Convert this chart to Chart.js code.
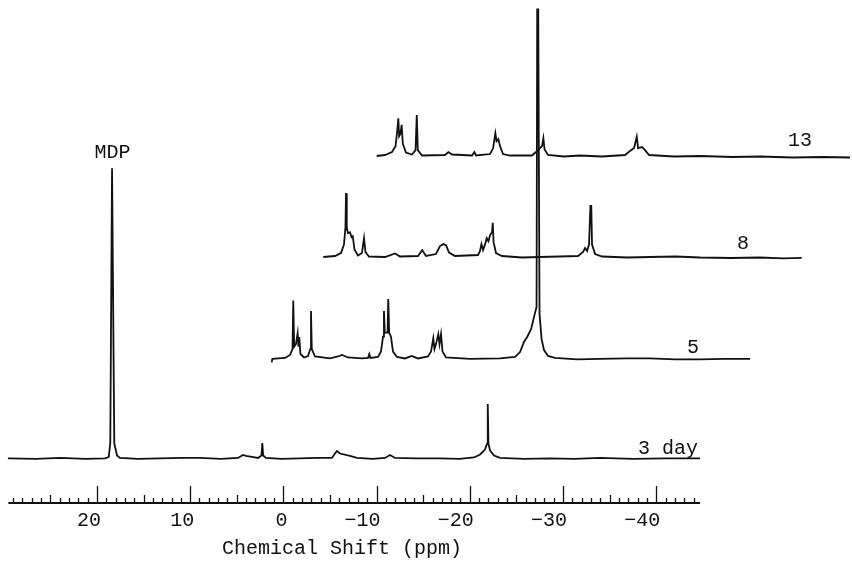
<!DOCTYPE html>
<html>
<head>
<meta charset="utf-8">
<script src="https://cdn.jsdelivr.net/npm/chart.js@4.4.0/dist/chart.umd.min.js"></script>
<style>
  html, body { margin: 0; padding: 0; background: #fff; }
  #wrap { width: 852px; height: 566px; }
</style>
</head>
<body>
<div id="wrap"><canvas id="espectro" width="852" height="566"></canvas></div>
<script>
// Traço "3 day": deslocamento químico (ppm) e intensidade acima da linha de base
const ppm3 = [29.55, 26.5, 23.97, 21.2, 19.14, 18.73, 18.57, 18.38, 18.28, 18.14, 17.85, 17.53, 15.6, 13.24, 10.8, 8.95,
  6.7, 4.87, 4.33, 4.01, 3.37, 2.73, 2.35, 2.26, 2.17, 1.87, 0.2, -1.78, -3.6, -5.21, -5.53, -5.75, -6.07, -7.14,
  -7.90, -9.6, -10.9, -11.44, -11.98, -14.2, -16.8, -18.9, -20.45, -21.1, -21.63, -21.85, -21.90, -21.95, -22.0, -22.17, -22.6,
  -23.24, -25.8, -28.6, -31.2, -33.97, -37.5, -41.0, -44.7];
const int3 = [0, -0.1, 0.1, -0.1, 0, 0.3, 3.1, 58.6, 58.6, 3.1, 0.6, 0.1, -0.1, 0, 0.1, 0.1,
  -0.1, 0.1, 0.7, 0.5, 0.3, 0.1, 0.6, 3.1, 0.6, 0.1, -0.1, 0, 0.1, 0.1, 1.0, 1.5, 1.0, 0.5,
  0.1, -0.1, 0.1, 0.7, 0.1, 0, 0, -0.1, 0.2, 0.8, 1.8, 3.0, 11.0, 11.0, 3.0, 1.6, 0.6,
  0.1, -0.1, 0, -0.1, 0.1, -0.1, 0, 0];

// Traço "5"
const ppm5 = [1.26, 1.18, -0.18, -0.71, -0.98, -1.06, -1.16, -1.35, -1.53, -1.62, -1.71, -1.83,
  -2.21, -2.64, -2.89, -2.96, -3.05, -3.39, -5.0, -5.86, -6.29, -6.93, -8.43, -9.08, -9.22, -9.34,
  -10.15, -10.47, -10.69, -10.79, -10.88, -11.01, -11.18, -11.25, -11.35, -11.54, -11.76, -12.19,
  -13.05, -13.77, -14.44, -15.52, -15.84, -16.08, -16.21, -16.37, -16.62, -16.75, -16.91, -17.07,
  -17.45, -20.02, -23.24, -24.85, -25.39, -25.82, -26.14, -26.57, -26.89, -27.16, -27.23, -27.34,
  -27.48, -27.7, -27.96, -28.39, -29.14, -31.5, -33.97, -36.8, -39.33, -42.0, -44.7, -47.3, -50.07];
const int5 = [-0.7, 0, 0.2, 0.8, 2.0, 11.8, 2.5, 3.0, 5.2, 2.5, 4.4, 1.0,
  0.3, 0.6, 2.0, 9.7, 2.0, 0.5, 0.1, 0.5, 0.8, 0.3, 0.1, 0.2, 1.0, 0.2,
  0.4, 1.5, 4.5, 9.7, 5.3, 5.3, 5.3, 12.1, 5.3, 4.5, 1.5, 0.4,
  0.1, 0.6, 0.1, 0.5, 1.5, 4.2, 2.0, 3.0, 5.0, 3.0, 5.0, 1.5,
  0.3, 0, 0.1, 0.4, 1.4, 3.5, 4.4, 6.0, 8.5, 10.5, 70.6, 70.6,
  9.0, 4.0, 1.8, 0.6, 0.2, -0.1, 0, 0.1, 0.1, -0.1, -0.1, 0, 0];

// Traço "8"
const ppm8 = [-4.28, -5.54, -6.18, -6.5, -6.66, -6.72, -6.8, -6.93, -7.15, -7.31, -7.44, -7.63,
  -8.0, -8.43, -8.65, -8.81, -9.18, -10.9, -11.98, -12.51, -14.44, -14.9, -15.3, -16.37, -16.8,
  -17.16, -17.45, -17.77, -18.41, -20.88, -21.09, -21.25, -21.42, -21.63, -21.81, -22.0, -22.17,
  -22.38, -22.46, -22.55, -22.81, -23.45, -25.6, -27.53, -29.6, -31.61, -32.15, -32.36, -32.58, -32.79, -32.94,
  -33.03, -33.11, -33.44, -34.19, -36.9, -39.33, -42.1, -44.7, -48.0, -51.14, -53.6, -55.61];
const int8 = [0, 0.2, 0.8, 2.5, 6.0, 12.9, 6.0, 4.8, 5.0, 4.0, 4.2, 1.5,
  0.3, 0.8, 3.8, 1.0, 0.1, 0, 0.7, 0.1, 0.2, 1.4, 0.2, 0.6, 2.2,
  2.6, 2.4, 0.9, 0.2, 0.4, 1.2, 2.6, 1.4, 2.5, 3.8, 3.2, 4.4,
  5.0, 6.9, 3.0, 0.8, 0.2, -0.1, 0, 0.1, 0.2, 1.0, 1.8, 1.2, 2.5, 10.3,
  10.3, 2.5, 0.6, 0.1, -0.1, 0, 0.1, -0.1, -0.2, -0.1, -0.3, -0.2];

// Traço "13"
const ppm13 = [-10.01, -10.9, -11.65, -12.03, -12.21, -12.33, -12.42, -12.56, -12.69, -12.81,
  -13.15, -13.8, -14.18, -14.31, -14.42, -14.87, -17.34, -17.7, -18.1, -20.24, -20.49, -20.67,
  -22.17, -22.49, -22.74, -22.87, -23.06, -23.24, -23.56, -24.31, -26.67, -27.1, -27.53, -27.75,
  -27.89, -28.02, -28.39, -30.1, -31.82, -34.2, -36.65, -37.19, -37.62, -37.91, -38.05, -38.48, -38.8, -39.23,
  -41.9, -44.7, -48.2, -51.14, -54.6, -57.9, -60.79];
const int13 = [0, 0.2, 0.8, 2.0, 5.0, 7.6, 4.0, 4.5, 6.3, 2.5,
  0.7, 0.3, 1.2, 8.3, 1.2, 0.1, 0.2, 0.8, 0.3, 0.1, 0.8, 0.1,
  0.4, 1.5, 4.6, 3.0, 3.4, 2.0, 0.4, 0.1, 0.1, 0.8, 1.6, 2.0,
  3.6, 1.3, 0.2, -0.1, 0.1, -0.1, 0.2, 1.0, 1.6, 3.9, 1.6, 1.8, 1.2, 0.2,
  -0.1, 0, -0.2, -0.1, -0.3, -0.2, -0.3];

// Empilhamento vertical e rótulos de cada traço
const baselines = [9.0, 29.1, 49.7, 70.1];
const traceLabels = ["3 day", "5", "8", "13"];
const labelPpm = [-38.05, -43.3, -48.66, -54.13];
const labelLift = [0.9, 1.2, 1.6, 2.0];

// Régua do eixo
const tickLabels = [20, 10, 0, -10, -20, -30, -40];
const rulerFrom = 29.5;
const rulerTo = -44.7;

function montarTraco(ppm, intens, base) {
  return ppm.map((p, i) => ({ x: p, y: intens[i] + base }));
}

const tracos = [
  montarTraco(ppm3, int3, baselines[0]),
  montarTraco(ppm5, int5, baselines[1]),
  montarTraco(ppm8, int8, baselines[2]),
  montarTraco(ppm13, int13, baselines[3])
];

const fonte = '20px "Liberation Mono", "DejaVu Sans Mono", monospace';

// Desenha a régua, os números, o título e os rótulos dos traços
const regua = {
  id: "regua",
  afterDatasetsDraw(chart) {
    const ctx = chart.ctx;
    const sx = chart.scales.x;
    const sy = chart.scales.y;
    const y0 = chart.chartArea.bottom;
    ctx.save();
    ctx.strokeStyle = "#111";
    ctx.fillStyle = "#111";

    ctx.lineWidth = 1.8;
    ctx.beginPath();
    ctx.moveTo(sx.getPixelForValue(rulerFrom), y0);
    ctx.lineTo(sx.getPixelForValue(rulerTo), y0);
    ctx.stroke();

    ctx.lineWidth = 1.3;
    for (let v = 29; v >= -44; v--) {
      const px = Math.round(sx.getPixelForValue(v)) + 0.5;
      const h = v % 10 === 0 ? 17 : (v % 5 === 0 ? 8 : 5);
      ctx.beginPath();
      ctx.moveTo(px, y0);
      ctx.lineTo(px, y0 - h);
      ctx.stroke();
    }

    ctx.font = fonte;
    ctx.textAlign = "right";
    ctx.textBaseline = "middle";
    tickLabels.forEach(v => {
      ctx.fillText(String(v).replace("-", "\u2212"), sx.getPixelForValue(v) + 4, y0 + 18);
    });

    ctx.textAlign = "center";
    ctx.fillText("Chemical Shift (ppm)", 342, y0 + 46);

    ctx.textAlign = "left";
    ctx.textBaseline = "alphabetic";
    traceLabels.forEach((t, i) => {
      ctx.fillText(t, sx.getPixelForValue(labelPpm[i]), sy.getPixelForValue(baselines[i] + labelLift[i]));
    });

    // rótulo do pico MDP
    ctx.textAlign = "center";
    ctx.fillText("MDP", sx.getPixelForValue(18.33), sy.getPixelForValue(baselines[0] + 58.6) - 10);
    ctx.restore();
  }
};

new Chart(document.getElementById("espectro"), {
  type: "scatter",
  data: {
    datasets: tracos.map(d => ({
      data: d,
      showLine: true,
      borderColor: "#111",
      borderWidth: 1.8,
      pointRadius: 0,
      tension: 0,
      clip: false
    }))
  },
  options: {
    responsive: false,
    animation: false,
    layout: { padding: { top: 8, bottom: 63, left: 0, right: 0 } },
    scales: {
      x: { type: "linear", min: -61.0, max: 30.4, reverse: true, display: false },
      y: { min: 0, max: 100, display: false }
    },
    plugins: { legend: { display: false }, tooltip: { enabled: false } }
  },
  plugins: [regua]
});
</script>
</body>
</html>
